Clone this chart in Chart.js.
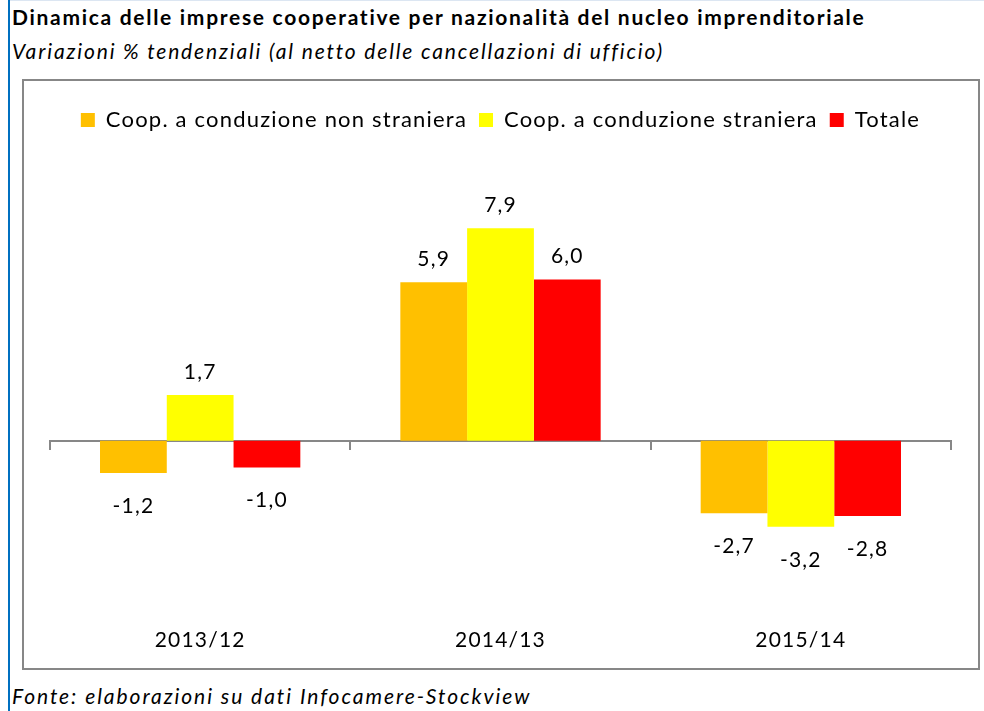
<!DOCTYPE html>
<html>
<head>
<meta charset="utf-8">
<script src="https://cdn.jsdelivr.net/npm/chart.js@4.4.1/dist/chart.umd.min.js"></script>
<style>
  html, body { margin: 0; padding: 0; background: #fff; }
  body { width: 984px; height: 711px; position: relative; overflow: hidden; font-family: Lato, "Open Sans", sans-serif; color: #000; }
  #bordo { position: absolute; left: 8px; top: 0; width: 2px; height: 711px; background: #0070C0; }
  #riga { position: absolute; left: 10px; top: 0; width: 974px; height: 1px; background: #DCE6F2; }
  #titolo { position: absolute; left: 12px; top: 4px; font-size: 21px; font-weight: bold; letter-spacing: 1.7px; white-space: nowrap; }
  #sotto { position: absolute; left: 12px; top: 38px; font-size: 21px; font-style: italic; letter-spacing: 1.85px; white-space: nowrap; }
  #fonte { position: absolute; left: 12px; top: 683px; font-size: 21px; font-style: italic; letter-spacing: 1.95px; white-space: nowrap; }
  #box { position: absolute; left: 22px; top: 79px; width: 958px; height: 591px; border: 2px solid #878787; box-sizing: border-box; }
  #box canvas { display: block; }
</style>
</head>
<body>
<div id="bordo"></div>
<div id="riga"></div>
<div id="titolo">Dinamica delle imprese cooperative per nazionalità del nucleo imprenditoriale</div>
<div id="sotto">Variazioni % tendenziali (al netto delle cancellazioni di ufficio)</div>
<div id="box"><canvas id="chart" width="954" height="587"></canvas></div>
<div id="fonte">Fonte: elaborazioni su dati Infocamere-Stockview</div>
<script>
// dati del grafico
const periodi = ["2013/12", "2014/13", "2015/14"];
const nonStraniera = [-1.2, 5.9, -2.7];
const straniera = [1.7, 7.9, -3.2];
const totale = [-1.0, 6.0, -2.8];
const nomiSerie = ["Coop. a conduzione non straniera", "Coop. a conduzione straniera", "Totale"];
const colori = ["#FFC000", "#FFFF00", "#FF0000"];

const fontBase = "Lato, 'Open Sans', sans-serif";

// spaziatura lettere come nel riferimento
const spaziatura = {
  id: "spaziatura",
  beforeUpdate(chart) { chart.ctx.letterSpacing = "1.2px"; },
  beforeDraw(chart) { chart.ctx.letterSpacing = "1.2px"; }
};

// etichette dei valori sopra/sotto le barre
const etichette = {
  id: "etichette",
  afterDatasetsDraw(chart) {
    const ctx = chart.ctx;
    ctx.save();
    ctx.font = "21px " + fontBase;
    ctx.fillStyle = "#000";
    ctx.textAlign = "center";
    ctx.textBaseline = "middle";
    chart.data.datasets.forEach((ds, i) => {
      const meta = chart.getDatasetMeta(i);
      meta.data.forEach((bar, j) => {
        const v = ds.data[j];
        const testo = v.toFixed(1).replace(".", ",");
        const y = v >= 0 ? bar.y - 23 : bar.y + 33;
        ctx.fillText(testo, bar.x, y);
      });
    });
    ctx.restore();
  }
};

const ctx = document.getElementById("chart").getContext("2d");
new Chart(ctx, {
  type: "bar",
  data: {
    labels: periodi,
    datasets: [
      { label: nomiSerie[0], data: nonStraniera, backgroundColor: colori[0] },
      { label: nomiSerie[1], data: straniera, backgroundColor: colori[1] },
      { label: nomiSerie[2], data: totale, backgroundColor: colori[2] }
    ]
  },
  options: {
    responsive: false,
    animation: false,
    categoryPercentage: 0.667,
    barPercentage: 1,
    layout: { padding: { top: 16, bottom: 12, left: 26, right: 27 } },
    scales: {
      x: {
        grid: { display: false },
        border: { display: false },
        ticks: { color: "#000", font: { size: 21, family: fontBase }, padding: 3 }
      },
      asse: {
        type: "category",
        axis: "x",
        position: { y: 0 },
        offset: true,
        grid: { offset: true, drawOnChartArea: false, drawTicks: true, tickLength: 8, color: "#878787", lineWidth: 2 },
        border: { display: true, color: "#878787", width: 2 },
        ticks: { display: false }
      },
      y: {
        display: false,
        min: -6.55,
        max: 11.15
      }
    },
    plugins: {
      legend: {
        position: "top",
        labels: {
          boxWidth: 14,
          boxHeight: 14,
          padding: 12,
          color: "#000",
          font: { size: 22, family: fontBase }
        }
      },
      tooltip: { enabled: false }
    }
  },
  plugins: [spaziatura, etichette]
});
</script>
</body>
</html>
